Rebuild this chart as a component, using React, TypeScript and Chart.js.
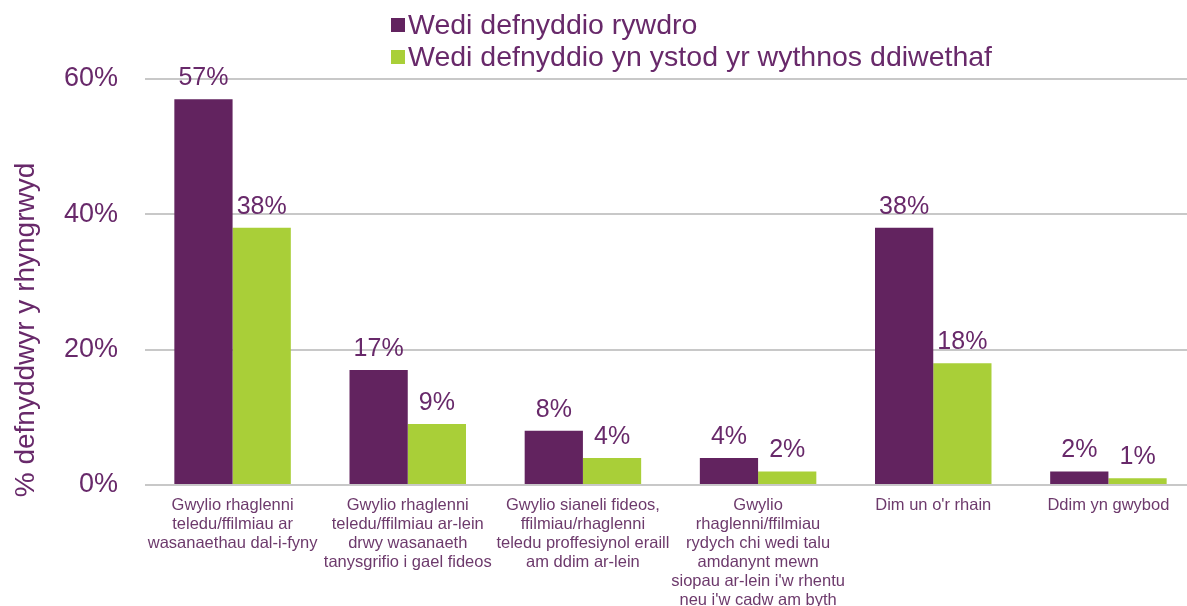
import React, { useEffect, useRef } from "react";
import { Chart, registerables } from "chart.js";

Chart.register(...registerables);

const categories: string[][] = [
  ["Gwylio rhaglenni", "teledu/ffilmiau ar", "wasanaethau dal-i-fyny"],
  ["Gwylio rhaglenni", "teledu/ffilmiau ar-lein", "drwy wasanaeth", "tanysgrifio i gael fideos"],
  ["Gwylio sianeli fideos,", "ffilmiau/rhaglenni", "teledu proffesiynol eraill", "am ddim ar-lein"],
  ["Gwylio", "rhaglenni/ffilmiau", "rydych chi wedi talu", "amdanynt mewn", "siopau ar-lein i'w rhentu", "neu i'w cadw am byth"],
  ["Dim un o'r rhain"],
  ["Ddim yn gwybod"],
];
const seriesNames = ["Wedi defnyddio rywdro", "Wedi defnyddio yn ystod yr wythnos ddiwethaf"];
const everUsed = [57, 17, 8, 4, 38, 2];
const lastWeek = [38, 9, 4, 2, 18, 1];
const yTicks = [0, 20, 40, 60];
const yTitle = "% defnyddwyr y rhyngrwyd";

const PURPLE = "#62235f";
const GREEN = "#a9cf38";
const TEXT = "#68296a";
const FONT = "'Liberation Sans', Arial, sans-serif";

const customPlugin = {
  id: "custom",
  afterDatasetsDraw(chart: any) {
    const ctx = chart.ctx;
    ctx.save();
    // data labels
    ctx.fillStyle = TEXT;
    ctx.font = `25px ${FONT}`;
    ctx.textAlign = "center";
    ctx.textBaseline = "middle";
    chart.data.datasets.forEach((ds: any, di: number) => {
      const meta = chart.getDatasetMeta(di);
      meta.data.forEach((el: any, i: number) => {
        ctx.fillText(ds.data[i] + "%", el.x, el.y - 21);
      });
    });
    // legend
    const colors = [PURPLE, GREEN];
    const ys = [25, 57];
    ctx.font = `28.5px ${FONT}`;
    ctx.textAlign = "left";
    seriesNames.forEach((n, i) => {
      ctx.fillStyle = colors[i];
      ctx.fillRect(391, ys[i] - 7, 14, 14);
      ctx.fillStyle = TEXT;
      ctx.fillText(n, 408, ys[i] + 1);
    });
    // y title
    ctx.translate(26, 330);
    ctx.rotate(-Math.PI / 2);
    ctx.font = `28px ${FONT}`;
    ctx.textAlign = "center";
    ctx.fillText(yTitle, 0, 0);
    ctx.restore();
  },
};

export default function App() {
  const ref = useRef<HTMLCanvasElement>(null);
  useEffect(() => {
    document.body.style.margin = "0";
    document.body.style.overflow = "hidden";
    const chart = new Chart(ref.current!, {
      type: "bar",
      data: {
        labels: categories,
        datasets: [
          { label: seriesNames[0], data: everUsed, backgroundColor: PURPLE, barPercentage: 1, categoryPercentage: 0.665 },
          { label: seriesNames[1], data: lastWeek, backgroundColor: GREEN, barPercentage: 1, categoryPercentage: 0.665 },
        ],
      },
      options: {
        responsive: false,
        animation: false,
        devicePixelRatio: 1,
        layout: { padding: { top: 79, left: 0, right: 0, bottom: 0 } },
        plugins: { legend: { display: false }, tooltip: { enabled: false } },
        scales: {
          x: {
            grid: { display: false },
            border: { display: false },
            ticks: {
              color: "#6d3a6c",
              font: { family: FONT, size: 16.5, lineHeight: 1.15 },
              padding: 3,
              maxRotation: 0,
              autoSkip: false,
            },
            afterFit: (s: any) => { s.height = 121; },
          },
          y: {
            min: 0,
            max: 60,
            afterBuildTicks: (s: any) => { s.ticks = yTicks.map((v) => ({ value: v })); },
            grid: { color: "#c8c8c8", lineWidth: 2, drawTicks: false },
            border: { display: false },
            ticks: {
              color: TEXT,
              font: { family: FONT, size: 27 },
              padding: 27,
              callback: (v: any) => v + "%",
            },
            afterFit: (s: any) => { s.width = 145; },
          },
        },
      },
      plugins: [customPlugin],
    });
    return () => chart.destroy();
  }, []);
  return (
    <div style={{ width: 1196, height: 606, overflow: "hidden" }}>
      <canvas ref={ref} width={1196} height={606} style={{ display: "block" }} />
    </div>
  );
}
